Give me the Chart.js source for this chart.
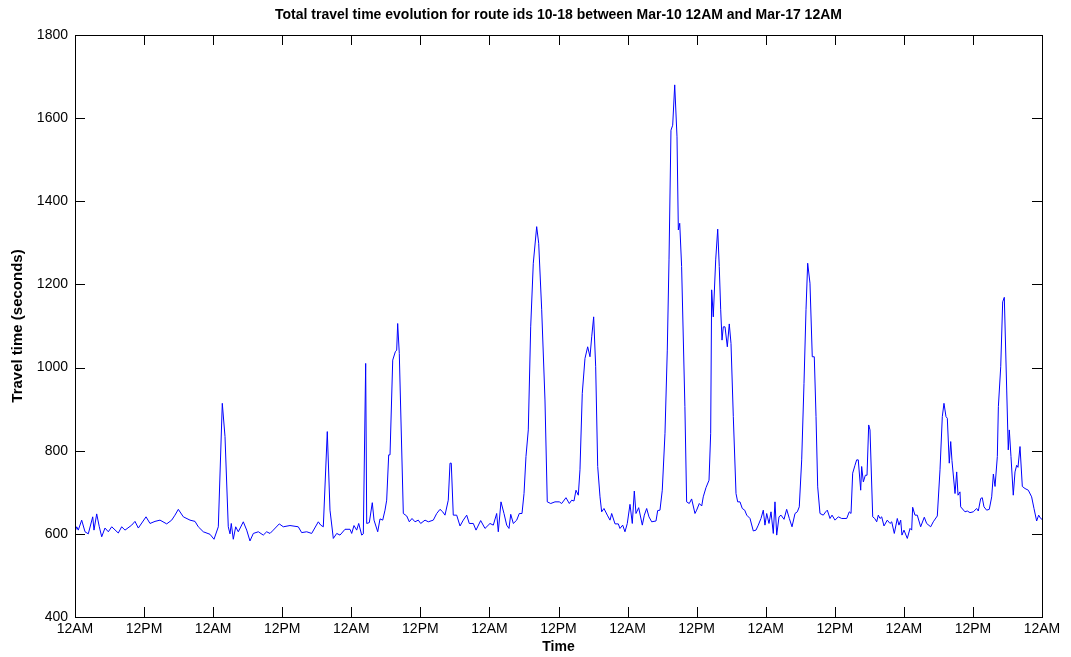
<!DOCTYPE html>
<html>
<head>
<meta charset="utf-8">
<script src="https://cdn.jsdelivr.net/npm/chart.js@4.4.1/dist/chart.umd.min.js"></script>
<style>
  body { margin: 0; background: #fff; }
  #wrap { width: 1071px; height: 657px; }
</style>
</head>
<body>
<div id="wrap"><canvas id="myChart" width="1071" height="657"></canvas></div>
<script>
// hours since Mar-10 12AM
var hours = [0,0.30,0.57,1.16,1.74,2.31,3.08,3.30,3.77,4.22,4.64,5.21,5.79,6.38,7.52,8.11,8.69,9.85,10.42,11.00,12.34,13.03,13.90,14.77,15.93,16.80,17.37,17.95,18.82,19.98,20.85,21.42,22.29,23.45,24.15,24.90,25.59,26.06,26.63,26.93,27.15,27.50,27.92,28.37,
  29.24,29.83,30.40,30.98,31.85,32.71,33.30,33.88,34.45,35.49,36.19,37.35,38.79,39.38,40.25,41.12,42.27,42.69,43.14,43.83,44.30,44.88,45.47,46.04,46.91,47.78,48.07,48.47,48.94,49.29,49.81,50.09,50.50,50.68,51.13,51.65,51.95,52.59,52.99,53.46,53.86,54.15,54.50,54.73,55.20,55.65,55.89,56.06,56.34,
  57.04,57.63,58.08,58.55,59.07,59.64,60.06,60.81,61.38,62.25,62.84,63.41,63.88,64.28,64.85,65.15,65.37,65.72,66.31,66.89,67.46,68.05,68.50,69.20,69.67,70.48,71.23,72.10,72.67,73.26,73.54,74.01,74.53,75.00,75.40,75.70,76.15,76.74,77.19,77.66,78.01,78.35,78.75,79.17,79.62,80.21,80.56,81.08,81.65,82.05,82.65,83.39,84.14,
  84.55,85.30,85.88,86.29,86.69,87.04,87.44,87.73,88.13,88.60,89.07,89.47,89.77,90.11,90.46,90.81,91.21,91.50,91.90,92.48,92.95,93.24,93.82,94.39,94.68,95.15,95.55,95.95,96.42,96.82,97.17,97.46,97.93,98.56,98.91,99.32,99.72,100.19,100.94,101.23,101.63,102.03,102.50,102.90,103.20,103.54,103.84,104.19,104.59,104.82,105.06,105.39,105.96,106.26,106.72,107.13,107.71,108.00,108.46,108.88,109.15,109.62,110.15,110.44,110.61,110.89,111.31,111.66,111.93,112.18,112.41,112.63,112.93,113.33,113.67,113.97,114.37,114.84,115.13,115.53,115.93,116.35,116.70,117.27,117.84,118.31,118.71,119.18,119.58,119.87,120.17,120.57,120.92,121.32,121.61,121.91,122.31,122.66,123.18,123.64,124.10,124.57,125.09,125.49,125.83,126.25,126.65,127.00,127.29,127.69,128.09,128.44,128.74,129.03,129.43,130.00,130.42,130.70,131.17,131.52,132.04,132.61,133.20,134.07,134.52,134.82,135.11,135.51,135.80,136.08,136.50,136.67,136.96,137.31,137.60,137.89,138.12,138.59,138.94,139.28,139.56,139.86,140.15,140.55,141.12,141.59,141.89,142.34,142.86,143.15,143.45,143.67,144.02,144.60,145.07,145.36,145.53,145.93,146.33,146.92,147.55,147.96,148.66,149.11,149.81,150.28,150.68,150.97,151.32,151.55,151.89,152.14,152.36,152.89,153.18,153.41,153.75,153.87,154.62,155.02,155.49,156.06,156.65,156.93,157.35,157.62,157.92,158.38,158.84,159.26,159.55,159.84,160.24,160.42,160.83,161.17,161.45,161.87,162.14,162.32,162.61,163.01,163.31,163.60,163.83,164.18,164.58,165.05,165.62,166.20,166.61,167.07,167.42,167.77,168];

var travelTime = [605,617,609,633,605,600,641,609,648,617,593,614,605,617,602,617,609,621,630,614,641,625,630,633,624,633,645,659,641,633,630,617,605,599,587,617,914,834,617,600,625,587,617,605,
  629,609,583,601,605,597,605,601,609,624,617,620,617,603,605,601,629,621,617,846,657,589,601,597,611,611,601,620,609,625,597,600,1010,625,627,675,633,605,636,633,657,681,790,790,1018,1038,1042,1106,1034,
  649,643,629,637,629,633,625,633,629,633,649,659,653,645,681,770,770,645,645,619,633,645,625,625,609,632,613,625,621,649,605,677,649,621,613,647,625,633,649,649,697,786,850,1098,1251,1339,1299,1139,922,677,673,677,677,
  673,687,673,681,679,705,693,754,938,1022,1050,1026,1074,1122,1002,762,689,653,661,645,633,649,624,624,613,621,605,625,671,625,703,649,663,621,645,661,641,629,631,656,657,705,842,1042,1259,1571,1583,1680,1555,1331,1347,1243,906,677,673,684,649,657,673,667,689,711,729,842,1187,1122,1259,1333,1243,1139,1066,1098,1098,1050,1105,1058,882,697,677,677,661,657,645,637,607,609,621,637,657,621,649,625,653,601,677,597,641,645,635,659,637,617,649,653,665,778,962,1139,1251,1203,1026,1026,882,713,649,645,653,657,637,645,633,641,637,637,653,649,746,765,778,778,705,762,725,741,741,862,850,641,637,629,645,637,641,619,633,625,629,601,637,621,633,597,609,589,613,609,664,645,645,617,640,625,617,629,643,754,882,914,882,878,770,822,776,697,749,693,701,665,653,655,651,653,661,655,685,687,665,657,659,689,744,714,786,906,1002,1158,1169,946,802,850,786,693,749,765,760,810,714,709,705,689,661,631,645,637,635];

var xTickLabels = ['12AM','12PM','12AM','12PM','12AM','12PM','12AM','12PM','12AM','12PM','12AM','12PM','12AM','12PM','12AM'];

var points = hours.map(function (h, i) { return { x: h, y: travelTime[i] }; });

// matlab style box with inward ticks
var boxTicks = {
  id: 'boxTicks',
  afterDatasetsDraw: function (chart) {
    var ctx = chart.ctx, a = chart.chartArea;
    var xs = chart.scales.x, ys = chart.scales.y;
    ctx.save();
    ctx.strokeStyle = '#000';
    ctx.lineWidth = 1;
    ctx.beginPath();
    xs.ticks.forEach(function (t) {
      var px = Math.round(xs.getPixelForValue(t.value)) + 0.5;
      ctx.moveTo(px, a.bottom); ctx.lineTo(px, a.bottom - 10);
      ctx.moveTo(px, a.top); ctx.lineTo(px, a.top + 10);
    });
    ys.ticks.forEach(function (t) {
      var py = Math.round(ys.getPixelForValue(t.value)) + 0.5;
      ctx.moveTo(a.left, py); ctx.lineTo(a.left + 10, py);
      ctx.moveTo(a.right, py); ctx.lineTo(a.right - 10, py);
    });
    ctx.stroke();
    ctx.strokeRect(Math.round(a.left) + 0.5, Math.round(a.top) + 0.5,
      Math.round(a.right - a.left), Math.round(a.bottom - a.top));
    ctx.restore();
  }
};

var font = 'Liberation Sans, Arial, Helvetica, sans-serif';

var ctx = document.getElementById('myChart').getContext('2d');
var travelChart = new Chart(ctx, {
  type: 'line',
  data: {
    datasets: [{
      data: points,
      borderColor: '#0000ff',
      borderWidth: 1,
      pointRadius: 0,
      tension: 0,
      fill: false
    }]
  },
  options: {
    responsive: false,
    animation: false,
    layout: { padding: { left: 0, right: 29, top: 0, bottom: 0 } },
    plugins: {
      legend: { display: false },
      tooltip: { enabled: false },
      title: {
        display: true,
        fullSize: false,
        text: 'Total travel time evolution for route ids 10-18 between Mar-10 12AM and Mar-17 12AM',
        color: '#000',
        font: { family: font, size: 14, weight: 'bold' },
        padding: { top: 7, bottom: 11.2 }
      }
    },
    scales: {
      x: {
        type: 'linear',
        min: 0,
        max: 168,
        grid: { display: false, drawTicks: false },
        border: { display: false },
        ticks: {
          stepSize: 12,
          autoSkip: false,
          maxRotation: 0,
          padding: 4,
          color: '#000',
          font: { family: font, size: 14 },
          callback: function (v, i) { return xTickLabels[i]; }
        },
        title: {
          display: true,
          text: 'Time',
          color: '#000',
          font: { family: font, size: 14, weight: 'bold' },
          padding: { top: 1, bottom: 1 }
        },
        afterFit: function (s) { s.height = 40; }
      },
      y: {
        min: 400,
        max: 1800,
        grid: { display: false, drawTicks: false },
        border: { display: false },
        ticks: {
          stepSize: 200,
          padding: 7,
          color: '#000',
          font: { family: font, size: 14 },
          callback: function (v) { return String(v); }
        },
        title: {
          display: true,
          text: 'Travel time (seconds)',
          color: '#000',
          font: { family: font, size: 15, weight: 'bold' },
          padding: { top: 9, bottom: 0 }
        },
        afterFit: function (s) { s.width = 75; }
      }
    }
  },
  plugins: [boxTicks]
});
</script>
</body>
</html>
